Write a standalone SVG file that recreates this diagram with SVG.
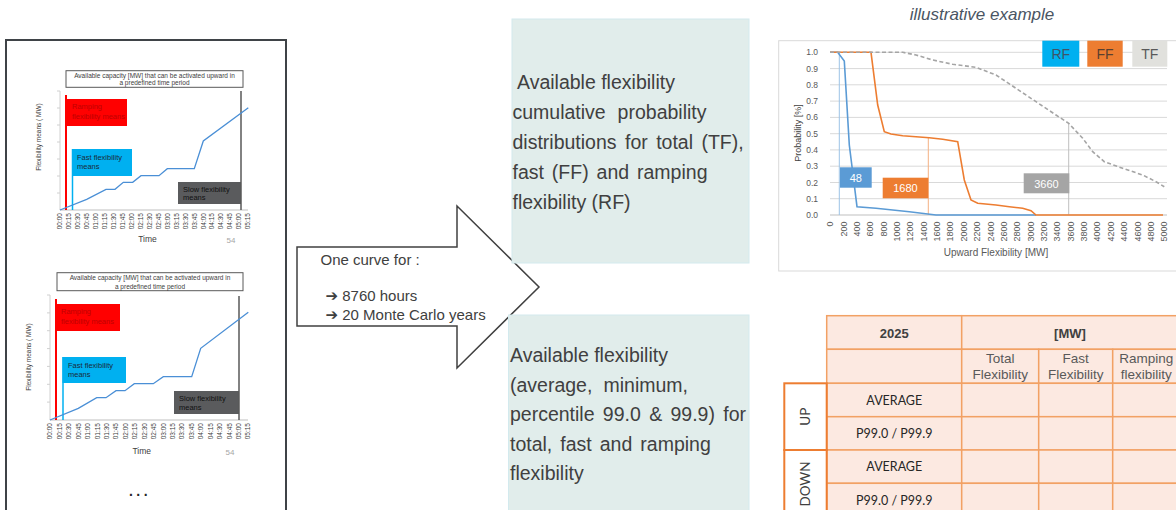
<svg xmlns="http://www.w3.org/2000/svg" width="1176" height="510" viewBox="0 0 1176 510">
<style>
text{font-family:"Liberation Sans","DejaVu Sans",Arial,sans-serif}
.ax{font-size:6.5px;fill:#404040}
.axr{font-size:9px;fill:#595959}
.ylr{font-size:8.5px;fill:#595959}
.mid{font-size:19.5px;fill:#404040}
.grid{stroke:#d9d9d9;stroke-width:1}
.tbl{fill:#fce9e1;stroke:#f2a164;stroke-width:1.5}
.th{font-size:13px;font-weight:bold;fill:#404040;text-anchor:middle}
.thn{font-size:13.5px;fill:#595959;text-anchor:middle}
.td{font-family:Lato,"Open Sans",sans-serif;font-size:12.5px;fill:#262626;text-anchor:middle}
.ud{font-family:Lato,"Open Sans",sans-serif;font-size:13.5px;fill:#404040;text-anchor:middle}
.lbl{font-size:7.5px}
.curve{fill:none;stroke:#4a8fd6;stroke-width:1.3}
</style>

<!-- Left panel -->
<g id="left-panel">
<rect x="6" y="40" width="280" height="480" fill="#ffffff" stroke="#3f4347" stroke-width="2"/>
</g>

<!-- Chart 1 -->
<g id="chart-1">
<rect x="66" y="70.7" width="177" height="16.6" fill="#fff" stroke="#595959" stroke-width="1"/>
<text class="ax" x="154.5" y="77.6" text-anchor="middle" font-size="6.4">Available capacity [MW] that can be activated upward in</text>
<text class="ax" x="154.5" y="85.2" text-anchor="middle" font-size="6.4">a predefined time period</text>
<line x1="60" y1="91" x2="60" y2="210" stroke="#d0d0d0"/>
<path d="M57 91H60M57 108H60M57 125H60M57 142H60M57 159H60M57 176H60M57 193H60" stroke="#d0d0d0"/>
<line x1="60" y1="210" x2="248" y2="210" stroke="#bfbfbf"/>
<text class="ax" transform="translate(40.5,137) rotate(-90)" text-anchor="middle">Flexibility means ( MW)</text>
<line x1="66" y1="95" x2="66" y2="210" stroke="#ff0000" stroke-width="2"/>
<rect x="66" y="99" width="61" height="27" fill="#ff0000"/>
<text class="lbl" x="72" y="109" fill="#c00000">Ramping</text>
<text class="lbl" x="72" y="118.5" fill="#c00000">flexibility  means</text>
<line x1="72.5" y1="149" x2="72.5" y2="210" stroke="#00b0f0" stroke-width="1.5"/>
<rect x="72" y="149" width="60" height="27" fill="#00b0f0"/>
<text class="lbl" x="77" y="159.5" fill="#1a2a3a">Fast flexibility</text>
<text class="lbl" x="77" y="168.5" fill="#1a2a3a">means</text>
<rect x="178" y="182" width="63" height="22" fill="#5a5b5d"/>
<text class="lbl" x="183" y="191.5" fill="#111">Slow flexibility</text>
<text class="lbl" x="183" y="200" fill="#111">means</text>
<line x1="241" y1="91" x2="241" y2="210" stroke="#595959" stroke-width="1.5"/>
<polyline class="curve" points="60,210 86.7,199.3 106,189.3 115,189.3 123.3,182.3 132.7,182.3 141,175.7 159,175.7 167.3,168.7 194.3,168.7 203.3,141 248.3,107.7"/>
<g class="ax" text-anchor="end">
<text transform="translate(62.3,213) rotate(-90)">00:00</text>
<text transform="translate(71.25,213) rotate(-90)">00:15</text>
<text transform="translate(80.2,213) rotate(-90)">00:30</text>
<text transform="translate(89.16,213) rotate(-90)">00:45</text>
<text transform="translate(98.1,213) rotate(-90)">01:00</text>
<text transform="translate(107.06,213) rotate(-90)">01:15</text>
<text transform="translate(116,213) rotate(-90)">01:30</text>
<text transform="translate(124.96,213) rotate(-90)">01:45</text>
<text transform="translate(133.9,213) rotate(-90)">02:00</text>
<text transform="translate(142.87,213) rotate(-90)">02:15</text>
<text transform="translate(151.8,213) rotate(-90)">02:30</text>
<text transform="translate(160.77,213) rotate(-90)">02:45</text>
<text transform="translate(169.7,213) rotate(-90)">03:00</text>
<text transform="translate(178.68,213) rotate(-90)">03:15</text>
<text transform="translate(187.6,213) rotate(-90)">03:30</text>
<text transform="translate(196.58,213) rotate(-90)">03:45</text>
<text transform="translate(205.5,213) rotate(-90)">04:00</text>
<text transform="translate(214.48,213) rotate(-90)">04:15</text>
<text transform="translate(223.4,213) rotate(-90)">04:30</text>
<text transform="translate(232.39,213) rotate(-90)">04:45</text>
<text transform="translate(241.3,213) rotate(-90)">05:00</text>
<text transform="translate(250.3,213) rotate(-90)">05:15</text>
</g>
<text x="147.5" y="241.5" font-size="8.5" fill="#404040" text-anchor="middle">Time</text>
<text x="231" y="242.5" font-size="8" fill="#a6a6a6" text-anchor="middle">54</text>
</g>

<!-- Chart 2 -->
<g id="chart-2">
<rect x="57" y="272.7" width="186" height="18" fill="#fff" stroke="#595959" stroke-width="1"/>
<text class="ax" x="150" y="279.8" text-anchor="middle" font-size="6.7">Available capacity [MW] that can be activated upward in</text>
<text class="ax" x="150" y="288.5" text-anchor="middle" font-size="6.7">a predefined time period</text>
<line x1="50" y1="295" x2="50" y2="420" stroke="#d0d0d0"/>
<path d="M47 295H50M47 312.9H50M47 330.7H50M47 348.6H50M47 366.4H50M47 384.3H50M47 402.1H50" stroke="#d0d0d0"/>
<line x1="50" y1="420" x2="248" y2="420" stroke="#bfbfbf"/>
<text class="ax" transform="translate(30.5,357) rotate(-90)" text-anchor="middle">Flexibility means ( MW)</text>
<line x1="56" y1="299" x2="56" y2="420" stroke="#ff0000" stroke-width="2"/>
<rect x="56" y="304" width="64" height="27" fill="#ff0000"/>
<text class="lbl" x="61" y="314" fill="#c00000">Ramping</text>
<text class="lbl" x="61" y="323.5" fill="#c00000">flexibility  means</text>
<line x1="63" y1="357" x2="63" y2="420" stroke="#00b0f0" stroke-width="1.5"/>
<rect x="62.5" y="357" width="63.5" height="26" fill="#00b0f0"/>
<text class="lbl" x="68" y="367.5" fill="#1a2a3a">Fast flexibility</text>
<text class="lbl" x="68" y="376.5" fill="#1a2a3a">means</text>
<rect x="174" y="391" width="65" height="23" fill="#5a5b5d"/>
<text class="lbl" x="179" y="400.5" fill="#111">Slow flexibility</text>
<text class="lbl" x="179" y="409.5" fill="#111">means</text>
<line x1="239" y1="296" x2="239" y2="420" stroke="#595959" stroke-width="1.5"/>
<polyline class="curve" points="50,420 78.3,408.3 96.7,397.7 106,397.7 116,390.7 125,390.7 134.3,383.7 153.3,383.7 163.3,376.7 191.7,376.7 200.7,348.3 248.3,312.3"/>
<g class="ax" text-anchor="end">
<text transform="translate(52.3,423) rotate(-90)">00:00</text>
<text transform="translate(61.7,423) rotate(-90)">00:15</text>
<text transform="translate(71.2,423) rotate(-90)">00:30</text>
<text transform="translate(80.6,423) rotate(-90)">00:45</text>
<text transform="translate(90,423) rotate(-90)">01:00</text>
<text transform="translate(99.5,423) rotate(-90)">01:15</text>
<text transform="translate(108.9,423) rotate(-90)">01:30</text>
<text transform="translate(118.3,423) rotate(-90)">01:45</text>
<text transform="translate(127.7,423) rotate(-90)">02:00</text>
<text transform="translate(137.2,423) rotate(-90)">02:15</text>
<text transform="translate(146.6,423) rotate(-90)">02:30</text>
<text transform="translate(156,423) rotate(-90)">02:45</text>
<text transform="translate(165.5,423) rotate(-90)">03:00</text>
<text transform="translate(174.9,423) rotate(-90)">03:15</text>
<text transform="translate(184.3,423) rotate(-90)">03:30</text>
<text transform="translate(193.8,423) rotate(-90)">03:45</text>
<text transform="translate(203.2,423) rotate(-90)">04:00</text>
<text transform="translate(212.6,423) rotate(-90)">04:15</text>
<text transform="translate(222,423) rotate(-90)">04:30</text>
<text transform="translate(231.5,423) rotate(-90)">04:45</text>
<text transform="translate(240.9,423) rotate(-90)">05:00</text>
<text transform="translate(250.3,423) rotate(-90)">05:15</text>
</g>
<text x="141.7" y="453.5" font-size="8.5" fill="#404040" text-anchor="middle">Time</text>
<text x="230" y="455" font-size="8" fill="#a6a6a6" text-anchor="middle">54</text>
<text x="140" y="496" font-size="14" font-weight="bold" letter-spacing="3.5" fill="#262626" text-anchor="middle">...</text>
</g>

<!-- Connector: block arrow -->
<g id="connectors">
<polygon points="297,247 457,247 457,206 539,287 457,368 457,326 297,326" fill="#ffffff" stroke="#404040" stroke-width="1.5" stroke-linejoin="miter"/>
<text x="320.5" y="265" font-size="15" fill="#404040">One curve for :</text>
<text x="325.5" y="301" font-size="15" fill="#404040">➔ 8760 hours</text>
<text x="325.5" y="320" font-size="15" fill="#404040">➔ 20 Monte Carlo years</text>
</g>

<!-- Middle box 1 -->
<g id="box-distributions">
<rect x="512" y="19" width="237" height="244" fill="#e1edeb" stroke="#d3eaee" stroke-width="1"/>
<text class="mid" x="517" y="89">Available flexibility</text>
<text class="mid" x="512.5" y="119" word-spacing="6.5">cumulative probability</text>
<text class="mid" x="512.5" y="149" word-spacing="3">distributions for total (TF),</text>
<text class="mid" x="512.5" y="179" word-spacing="2.5">fast (FF) and ramping</text>
<text class="mid" x="512.5" y="209">flexibility (RF)</text>
</g>

<!-- Middle box 2 -->
<g id="box-statistics">
<rect x="508.5" y="315" width="240.5" height="200" fill="#e1edeb" stroke="#d3eaee" stroke-width="1"/>
<text class="mid" x="510" y="362">Available flexibility</text>
<text class="mid" x="510" y="391.5" word-spacing="5.7">(average, minimum,</text>
<text class="mid" x="510" y="421" word-spacing="2.9">percentile 99.0 &amp; 99.9) for</text>
<text class="mid" x="510" y="450.5" word-spacing="2.6">total, fast and ramping</text>
<text class="mid" x="510" y="480">flexibility</text>
</g>

<!-- Right chart -->
<g id="chart-probability">
<text x="982" y="20" font-size="17" font-style="italic" fill="#4a5563" text-anchor="middle">illustrative example</text>
<rect x="778.7" y="40.7" width="400" height="230.3" fill="#ffffff" stroke="#d9d9d9" stroke-width="1"/>
<g class="grid">
<line x1="830" y1="52.3" x2="1167" y2="52.3"/>
<line x1="830" y1="68.6" x2="1167" y2="68.6"/>
<line x1="830" y1="84.8" x2="1167" y2="84.8"/>
<line x1="830" y1="101.1" x2="1167" y2="101.1"/>
<line x1="830" y1="117.4" x2="1167" y2="117.4"/>
<line x1="830" y1="133.7" x2="1167" y2="133.7"/>
<line x1="830" y1="149.9" x2="1167" y2="149.9"/>
<line x1="830" y1="166.2" x2="1167" y2="166.2"/>
<line x1="830" y1="182.5" x2="1167" y2="182.5"/>
<line x1="830" y1="198.7" x2="1167" y2="198.7"/>
</g>
<line x1="830" y1="215" x2="1167" y2="215" stroke="#bfbfbf"/>
<g class="ylr" text-anchor="end">
<text x="818" y="55.3">1.0</text>
<text x="818" y="71.6">0.9</text>
<text x="818" y="87.8">0.8</text>
<text x="818" y="104.1">0.7</text>
<text x="818" y="120.4">0.6</text>
<text x="818" y="136.7">0.5</text>
<text x="818" y="152.9">0.4</text>
<text x="818" y="169.2">0.3</text>
<text x="818" y="185.5">0.2</text>
<text x="818" y="201.7">0.1</text>
<text x="818" y="218">0.0</text>
</g>
<g class="axr" text-anchor="end">
<text transform="translate(833.2,221.5) rotate(-90)">0</text>
<text transform="translate(846.6,221.5) rotate(-90)">200</text>
<text transform="translate(859.9,221.5) rotate(-90)">400</text>
<text transform="translate(873.3,221.5) rotate(-90)">600</text>
<text transform="translate(886.6,221.5) rotate(-90)">800</text>
<text transform="translate(900,221.5) rotate(-90)">1000</text>
<text transform="translate(913.4,221.5) rotate(-90)">1200</text>
<text transform="translate(926.7,221.5) rotate(-90)">1400</text>
<text transform="translate(940.1,221.5) rotate(-90)">1600</text>
<text transform="translate(953.4,221.5) rotate(-90)">1800</text>
<text transform="translate(966.8,221.5) rotate(-90)">2000</text>
<text transform="translate(980.2,221.5) rotate(-90)">2200</text>
<text transform="translate(993.5,221.5) rotate(-90)">2400</text>
<text transform="translate(1006.9,221.5) rotate(-90)">2600</text>
<text transform="translate(1020.2,221.5) rotate(-90)">2800</text>
<text transform="translate(1033.6,221.5) rotate(-90)">3000</text>
<text transform="translate(1047,221.5) rotate(-90)">3200</text>
<text transform="translate(1060.3,221.5) rotate(-90)">3400</text>
<text transform="translate(1073.7,221.5) rotate(-90)">3600</text>
<text transform="translate(1087,221.5) rotate(-90)">3800</text>
<text transform="translate(1100.4,221.5) rotate(-90)">4000</text>
<text transform="translate(1113.8,221.5) rotate(-90)">4200</text>
<text transform="translate(1127.1,221.5) rotate(-90)">4400</text>
<text transform="translate(1140.5,221.5) rotate(-90)">4600</text>
<text transform="translate(1153.8,221.5) rotate(-90)">4800</text>
<text transform="translate(1167.2,221.5) rotate(-90)">5000</text>
</g>
<text x="996" y="256" font-size="10" fill="#595959" text-anchor="middle">Upward Flexibility [MW]</text>
<text transform="translate(800.5,133) rotate(-90)" font-size="9" fill="#404040" text-anchor="middle">Probability [%]</text>
<line x1="839.3" y1="52.3" x2="839.3" y2="215" stroke="#9dc3e6" stroke-width="1"/>
<line x1="928.3" y1="138" x2="928.3" y2="215" stroke="#f4b183" stroke-width="1"/>
<line x1="1068.7" y1="123" x2="1068.7" y2="215" stroke="#bfbfbf" stroke-width="1"/>
<polyline fill="none" stroke="#5b9bd5" stroke-width="1.6" points="830,52.3 837.7,52.3 844.3,61 849.3,145 857,206.7 876,208.3 909.3,211.7 936,215 1036,215"/>
<polyline fill="none" stroke="#ed7d31" stroke-width="1.6" points="830,52.3 871,52.3 877.7,105 884.3,131.7 891,134 902.7,135.7 916,136.7 929.3,137.7 942.7,139.3 957.7,141.7 964.3,180 971,200 977.7,203.3 996,205 1009.3,206.7 1022.7,208.3 1031,210.7 1036,215 1163,215"/>
<polyline fill="none" stroke="#a5a5a5" stroke-width="1.6" stroke-dasharray="4,2.5" points="830,52.3 902.7,52.3 916,55 932.7,60 952.7,64.3 976,67.3 996,75 1016,88.3 1036,101.7 1056,115 1068.7,123.3 1082.7,138.3 1092.7,151.7 1104.3,161.7 1122.7,168.3 1142.7,175 1156,181.7 1164.3,186.7"/>
<rect x="840" y="167.3" width="31.7" height="20.4" fill="#5b9bd5"/>
<text x="855.8" y="181.8" font-size="11" fill="#ffffff" text-anchor="middle">48</text>
<rect x="882.7" y="177.7" width="45.6" height="20.6" fill="#ed7d31"/>
<text x="905.5" y="192" font-size="11" fill="#ffffff" text-anchor="middle">1680</text>
<rect x="1023.7" y="173.3" width="45.6" height="20" fill="#a5a5a5"/>
<text x="1046.5" y="187.5" font-size="11" fill="#ffffff" text-anchor="middle">3660</text>
<rect x="1042.3" y="40.7" width="37" height="26" fill="#00b0f0"/>
<text x="1060.8" y="59" font-size="14" fill="#3f5468" text-anchor="middle">RF</text>
<rect x="1087.3" y="40.7" width="35.4" height="26" fill="#ed7d31"/>
<text x="1105" y="59" font-size="14" fill="#5a4030" text-anchor="middle">FF</text>
<rect x="1132.3" y="40.7" width="35" height="26" fill="#e1e1dd"/>
<text x="1149.8" y="59" font-size="14" fill="#595959" text-anchor="middle">TF</text>
</g>

<!-- Table -->
<g id="table">
<rect class="tbl" x="826.7" y="315.7" width="135" height="33.6"/>
<rect class="tbl" x="961.7" y="315.7" width="218.3" height="33.6"/>
<rect class="tbl" x="826.7" y="349.3" width="135" height="34"/>
<rect class="tbl" x="961.7" y="349.3" width="77" height="34"/>
<rect class="tbl" x="1038.7" y="349.3" width="74" height="34"/>
<rect class="tbl" x="1112.7" y="349.3" width="67.3" height="34"/>
<rect class="tbl" x="826.7" y="383.3" width="135" height="33.4"/>
<rect class="tbl" x="961.7" y="383.3" width="77" height="33.4"/>
<rect class="tbl" x="1038.7" y="383.3" width="74" height="33.4"/>
<rect class="tbl" x="1112.7" y="383.3" width="67.3" height="33.4"/>
<rect class="tbl" x="826.7" y="416.7" width="135" height="33.3"/>
<rect class="tbl" x="961.7" y="416.7" width="77" height="33.3"/>
<rect class="tbl" x="1038.7" y="416.7" width="74" height="33.3"/>
<rect class="tbl" x="1112.7" y="416.7" width="67.3" height="33.3"/>
<rect class="tbl" x="826.7" y="450" width="135" height="33.3"/>
<rect class="tbl" x="961.7" y="450" width="77" height="33.3"/>
<rect class="tbl" x="1038.7" y="450" width="74" height="33.3"/>
<rect class="tbl" x="1112.7" y="450" width="67.3" height="33.3"/>
<rect class="tbl" x="826.7" y="483.3" width="135" height="33.7"/>
<rect class="tbl" x="961.7" y="483.3" width="77" height="33.7"/>
<rect class="tbl" x="1038.7" y="483.3" width="74" height="33.7"/>
<rect class="tbl" x="1112.7" y="483.3" width="67.3" height="33.7"/>
<rect x="784.3" y="383.3" width="42.4" height="66.7" fill="#ffffff" stroke="#ed7d31" stroke-width="2"/>
<rect x="784.3" y="450" width="42.4" height="70" fill="#ffffff" stroke="#ed7d31" stroke-width="2"/>
<text class="th" x="894.2" y="337.8">2025</text>
<text class="th" x="1070" y="337.8">[MW]</text>
<text class="thn" x="1000.2" y="363">Total</text>
<text class="thn" x="1000.2" y="379">Flexibility</text>
<text class="thn" x="1075.7" y="363">Fast</text>
<text class="thn" x="1075.7" y="379">Flexibility</text>
<text class="thn" x="1146.3" y="363">Ramping</text>
<text class="thn" x="1146.3" y="379">flexibility</text>
<text class="td" x="894.3" y="404.5">AVERAGE</text>
<text class="td" x="894.3" y="438">P99.0 / P99.9</text>
<text class="td" x="894.3" y="471.2">AVERAGE</text>
<text class="td" x="894.3" y="504.5">P99.0 / P99.9</text>
<text class="ud" transform="translate(810,416.7) rotate(-90)">UP</text>
<text class="ud" transform="translate(810,484) rotate(-90)">DOWN</text>
</g>
</svg>
